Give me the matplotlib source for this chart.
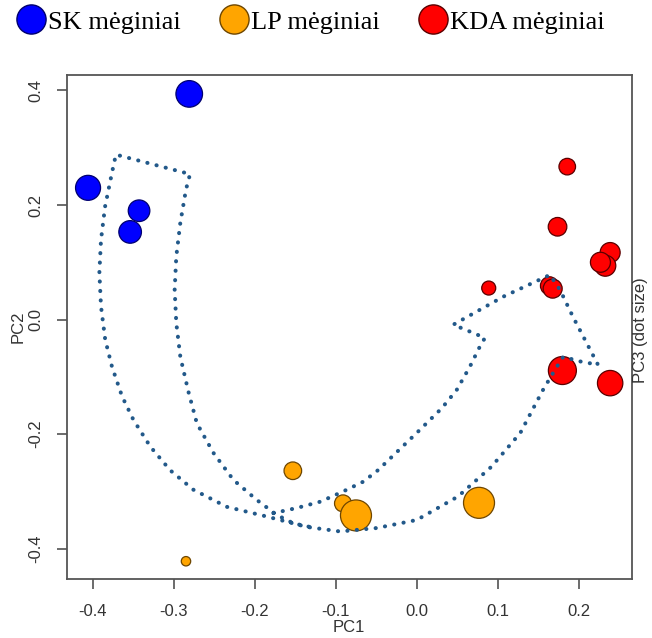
import matplotlib
matplotlib.use("Agg")
import matplotlib.pyplot as plt
from matplotlib.lines import Line2D

# PCA scores
sk_pc1 = [-0.406, -0.343, -0.354, -0.281]
sk_pc2 = [0.230, 0.190, 0.153, 0.394]
sk_r = [12.5, 10.8, 11.3, 13.3]          # dot radius (px) ~ PC3

lp_pc1 = [-0.153, -0.091, -0.075, 0.077, -0.285]
lp_pc2 = [-0.264, -0.321, -0.342, -0.320, -0.422]
lp_r = [8.8, 8.5, 15.5, 15.5, 4.7]

kda_pc1 = [0.186, 0.174, 0.239, 0.233, 0.227, 0.089, 0.164, 0.168, 0.180, 0.239]
kda_pc2 = [0.267, 0.162, 0.117, 0.094, 0.100, 0.055, 0.059, 0.054, -0.089, -0.111]
kda_r = [8.3, 9.3, 10.0, 10.5, 10.0, 7.0, 9.0, 9.5, 14.0, 12.7]

# hand drawn arrow outline (data units)
arrow_x = [-0.177, -0.148, -0.119, -0.0906, -0.0659, -0.0478, 0.000, 0.0309, 0.0494, 0.0658,
           0.0781, 0.0843, 0.0658, 0.0452, 0.107, 0.1646, 0.177, 0.193, 0.210, 0.224,
           0.2016, 0.181, 0.1707, 0.156, 0.144, 0.128, 0.0923, 0.051, 0.000, -0.0494,
           -0.0947, -0.136, -0.185, -0.2346, -0.276, -0.3046, -0.329, -0.350, -0.364, -0.3765,
           -0.3848, -0.390, -0.392, -0.390, -0.385, -0.3765, -0.3716, -0.280, -0.285, -0.292,
           -0.297, -0.299, -0.297, -0.292, -0.282, -0.2716, -0.251, -0.2264, -0.1975, -0.173,
           -0.152, -0.1256]
arrow_y = [-0.338, -0.329, -0.318, -0.300, -0.283, -0.263, -0.198, -0.155, -0.123, -0.082,
           -0.047, -0.032, -0.021, -0.009, 0.040, 0.078, 0.052, 0.005, -0.041, -0.079,
           -0.073, -0.065, -0.088, -0.123, -0.155, -0.198, -0.257, -0.309, -0.350, -0.364,
           -0.370, -0.362, -0.344, -0.327, -0.297, -0.263, -0.222, -0.175, -0.134, -0.082,
           -0.035, 0.023, 0.082, 0.139, 0.197, 0.256, 0.288, 0.254, 0.227, 0.169,
           0.110, 0.052, -0.006, -0.065, -0.126, -0.181, -0.233, -0.280, -0.315, -0.341,
           -0.356, -0.364]

xticks = [-0.4, -0.3, -0.2, -0.1, 0.0, 0.1, 0.2]
yticks = [-0.4, -0.2, 0.0, 0.2, 0.4]

groups = [
    ("SK mėginiai", sk_pc1, sk_pc2, sk_r, "#0000ff", "#00006e"),
    ("LP mėginiai", lp_pc1, lp_pc2, lp_r, "#ffa500", "#6e4600"),
    ("KDA mėginiai", kda_pc1, kda_pc2, kda_r, "#ff0000", "#5a0000"),
]

plt.rcParams['font.family'] = ['Liberation Sans', 'DejaVu Sans']

fig = plt.figure(figsize=(6.52, 6.38), dpi=100)
ax = fig.add_axes([67 / 652, 1 - 579 / 638, 565 / 652, 504 / 638])

# dotted outline of the curved arrow
ax.plot(arrow_x, arrow_y, color="#22598a", linewidth=2.9,
        linestyle=(0, (0.05, 2.3)), dash_capstyle="round", zorder=3)

for name, xs, ys, rs, fc, ec in groups:
    sizes = [(1.44 * r) ** 2 for r in rs]
    ax.scatter(xs, ys, s=sizes, c=fc, edgecolors=ec, linewidths=0.9, zorder=2)

ax.set_xlim(-0.432, 0.266)
ax.set_ylim(-0.453, 0.427)
ax.set_xticks(xticks)
ax.set_xticklabels(["%.1f" % v for v in xticks])
ax.set_yticks(yticks)
ax.set_yticklabels(["%.1f" % v for v in yticks])
ax.tick_params(axis="x", length=7, width=1.1, color="#444444", pad=11,
               labelsize=12, labelcolor="#333333")
ax.tick_params(axis="y", length=7, width=1.1, color="#444444", pad=10,
               labelsize=12, labelcolor="#333333", labelrotation=90)
for lab in ax.get_yticklabels():
    lab.set_va("center")
for sp in ax.spines.values():
    sp.set_color("#555555")
    sp.set_linewidth(1.3)

fig.text(349 / 652, 1 - 627 / 638, "PC1", ha="center", va="center",
         fontsize=12, color="#333333")
fig.text(18 / 652, 1 - 327 / 638, "PC2", ha="center", va="center",
         rotation=90, fontsize=12, color="#333333")
fig.text(641 / 652, 1 - 330 / 638, "PC3 (dot size)", ha="center", va="center",
         rotation=90, fontsize=12, color="#333333")

handles = [Line2D([], [], marker="o", linestyle="none", markersize=21,
                  markerfacecolor=g[4], markeredgecolor=g[5], markeredgewidth=1.0)
           for g in groups]
fig.legend(handles, [g[0] for g in groups], loc="center left",
           bbox_to_anchor=(18 / 652, 1 - 22 / 638), ncol=3, frameon=False,
           prop={"family": "Liberation Serif", "size": 19},
           handlelength=1.0, handletextpad=0.15, columnspacing=1.5,
           borderaxespad=0, borderpad=0)

fig.savefig("out.png", dpi=100)
